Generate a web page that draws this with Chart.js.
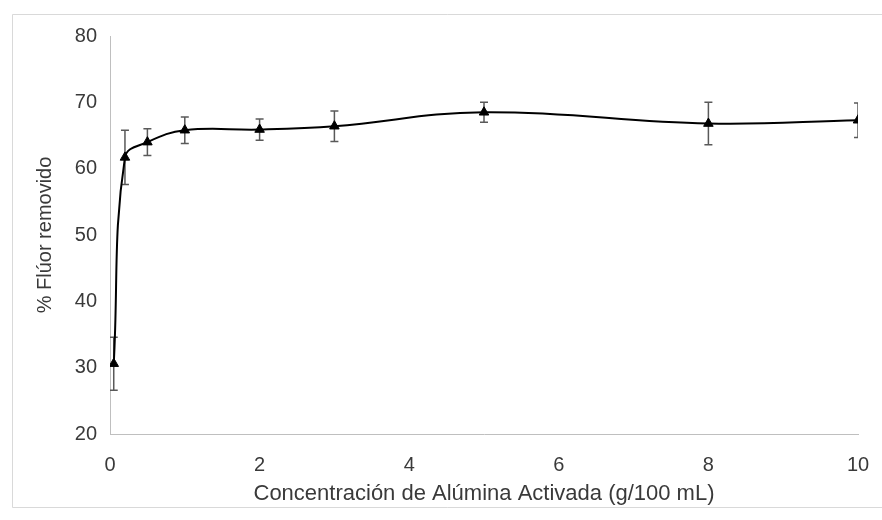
<!DOCTYPE html>
<html>
<head>
<meta charset="utf-8">
<script src="https://cdn.jsdelivr.net/npm/chart.js@4"></script>
<style>
  body { margin: 0; background: #fff; }
  #grafico { display: block; }
</style>
</head>
<body>
<canvas id="grafico" width="882" height="520"></canvas>
<script>
// g de alúmina activada por 100 mL y % de flúor removido (media ± desviación)
var concentracion = [0.05, 0.2, 0.5, 1, 2, 3, 5, 8, 10];
var removido = [30.6, 61.7, 64.0, 65.8, 65.9, 66.4, 68.5, 66.8, 67.3];
var desviacion = [4.0, 4.1, 2.0, 2.0, 1.6, 2.3, 1.5, 3.2, 2.6];

var ticksX = [0, 2, 4, 6, 8, 10];
var ticksY = [20, 30, 40, 50, 60, 70, 80];

var familia = "'Liberation Sans', Arial, sans-serif";
var colorTexto = "#3a3a3a";
var colorEje = "#bfbfbf";

// marco gris alrededor del gráfico (arriba, izquierda y abajo)
var marco = {
  id: "marco",
  beforeDraw(chart) {
    var ctx = chart.ctx;
    ctx.save();
    ctx.fillStyle = "#fff";
    ctx.fillRect(0, 0, chart.width, chart.height);
    ctx.strokeStyle = "#d9d9d9";
    ctx.lineWidth = 1;
    ctx.beginPath();
    ctx.moveTo(chart.width, 14.5);
    ctx.lineTo(12.5, 14.5);
    ctx.lineTo(12.5, 507.5);
    ctx.lineTo(chart.width, 507.5);
    ctx.stroke();
    ctx.restore();
  },
};

// barras de error verticales con remate horizontal
var barrasError = {
  id: "barrasError",
  beforeDatasetsDraw(chart) {
    var ctx = chart.ctx;
    var x = chart.scales.x;
    var y = chart.scales.y;
    var area = chart.chartArea;
    ctx.save();
    ctx.beginPath();
    ctx.rect(area.left, area.top, area.right - area.left, area.bottom - area.top);
    ctx.clip();
    ctx.strokeStyle = "#595959";
    ctx.lineWidth = 1.5;
    for (var i = 0; i < concentracion.length; i++) {
      var px = x.getPixelForValue(concentracion[i]);
      var arriba = y.getPixelForValue(removido[i] + desviacion[i]);
      var abajo = y.getPixelForValue(removido[i] - desviacion[i]);
      ctx.beginPath();
      ctx.moveTo(px, arriba);
      ctx.lineTo(px, abajo);
      ctx.moveTo(px - 4, arriba);
      ctx.lineTo(px + 4, arriba);
      ctx.moveTo(px - 4, abajo);
      ctx.lineTo(px + 4, abajo);
      ctx.stroke();
    }
    ctx.restore();
  },
};

var ctx = document.getElementById("grafico").getContext("2d");
var chart = new Chart(ctx, {
  type: "line",
  data: {
    datasets: [
      {
        data: concentracion.map((c, i) => ({ x: c, y: removido[i] })),
        borderColor: "#000",
        borderWidth: 2,
        backgroundColor: "#000",
        pointStyle: "triangle",
        pointRadius: 5.5,
        pointBorderWidth: 1,
        tension: 0.4,
        fill: false,
      },
    ],
  },
  options: {
    responsive: false,
    animation: false,
    layout: { padding: { left: 0, top: 36, right: 24, bottom: 0 } },
    plugins: {
      legend: { display: false },
      tooltip: { enabled: false },
    },
    scales: {
      x: {
        type: "linear",
        min: 0,
        max: 10,
        afterBuildTicks: (s) => { s.ticks = ticksX.map((v) => ({ value: v })); },
        afterFit: (s) => {
          s.height = 86;
          // el margen derecho lo fija layout.padding
          s.paddingLeft = 0;
          s.paddingRight = 0;
        },
        grid: { display: false, drawTicks: false },
        border: { display: true, color: colorEje, width: 1 },
        ticks: { color: colorTexto, font: { family: familia, size: 20 }, padding: 19, maxRotation: 0 },
        title: {
          display: true,
          text: "Concentración de Alúmina Activada (g/100 mL)",
          color: colorTexto,
          font: { family: familia, size: 22 },
          padding: { top: 2, bottom: 13 },
        },
      },
      y: {
        min: 20,
        max: 80,
        afterBuildTicks: (s) => { s.ticks = ticksY.map((v) => ({ value: v })); },
        afterFit: (s) => { s.width = 110; },
        grid: { display: false, drawTicks: false },
        border: { display: true, color: colorEje, width: 1 },
        ticks: { color: colorTexto, font: { family: familia, size: 20 }, padding: 13 },
        title: {
          display: true,
          text: "% Flúor removido",
          color: colorTexto,
          font: { family: familia, size: 20 },
          padding: { top: 33, bottom: 0 },
        },
      },
    },
  },
  plugins: [marco, barrasError],
});
</script>
</body>
</html>
